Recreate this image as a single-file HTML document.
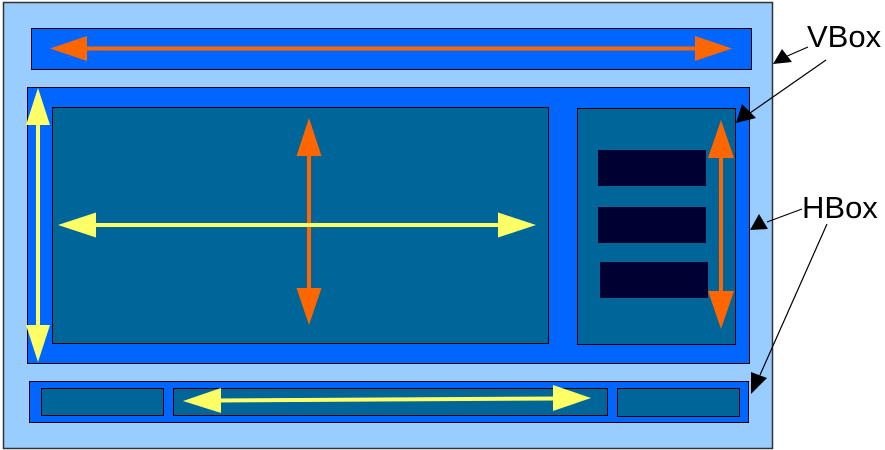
<!DOCTYPE html>
<html><head><meta charset="utf-8"><style>
html,body{margin:0;padding:0;background:#fff;width:885px;height:450px;overflow:hidden}
</style></head><body>
<svg width="885" height="450" xmlns="http://www.w3.org/2000/svg">
<rect x="3.5" y="2.5" width="769" height="446" fill="#99ccff" stroke="#333" stroke-width="1.5"/>
<rect x="31.5" y="28.5" width="720" height="41" fill="#0066ff" stroke="#000" stroke-width="1"/>
<rect x="27.5" y="87.5" width="722" height="276" fill="#0066ff" stroke="#000" stroke-width="1"/>
<rect x="52.5" y="107.5" width="496" height="236" fill="#006699" stroke="#000" stroke-width="1"/>
<rect x="577.5" y="108.5" width="158" height="236" fill="#006699" stroke="#000" stroke-width="1"/>
<rect x="598" y="150" width="108" height="36" fill="#000033"/>
<rect x="598" y="207" width="108" height="36" fill="#000033"/>
<rect x="600" y="262" width="108" height="36" fill="#000033"/>
<rect x="29.5" y="381.5" width="719" height="41" fill="#0066ff" stroke="#000" stroke-width="1"/>
<rect x="41.5" y="388.5" width="122" height="27" fill="#006699" stroke="#000" stroke-width="1"/>
<rect x="173.5" y="388.5" width="434" height="27" fill="#006699" stroke="#000" stroke-width="1"/>
<rect x="617.5" y="388.5" width="122" height="28" fill="#006699" stroke="#000" stroke-width="1"/>
<g fill="#ff6600" stroke="none">
<rect x="85" y="46.5" width="612" height="4"/>
<polygon points="50,48.5 87,36 87,61"/>
<polygon points="732,48.5 695,36 695,61"/>
<rect x="307" y="150" width="4" height="145"/>
<polygon points="309,118 296.5,156 321.5,156"/>
<polygon points="309,325 296.5,288 321.5,288"/>
<rect x="719" y="155" width="4" height="140"/>
<polygon points="721,120 708,158 734,158"/>
<polygon points="721,329 708,291 734,291"/>
</g>
<g fill="#ffff66" stroke="none">
<rect x="36" y="120" width="4" height="210"/>
<polygon points="38,88 26,125 50,125"/>
<polygon points="38,362 26,325 50,325"/>
<rect x="90" y="223" width="410" height="4"/>
<polygon points="58,225 96,212.5 96,237.5"/>
<polygon points="536,225 498,212.5 498,237.5"/>
<polygon points="183,401 221,388 221,413"/>
<polygon points="591,398 553,385 553,411"/>
<line x1="215" y1="400.5" x2="560" y2="398.5" stroke="#ffff66" stroke-width="4"/>
</g>
<g stroke="#000" stroke-width="1.2" fill="none">
<line x1="808" y1="47" x2="785" y2="57"/>
<line x1="826" y1="60" x2="750" y2="113"/>
<line x1="802" y1="209" x2="767" y2="222"/>
<line x1="827" y1="224" x2="760" y2="375"/>
</g>
<g fill="#000">
<polygon points="773,64 782,49 792,62"/>
<polygon points="736,123 742,104 756,118"/>
<polygon points="750,230 759,214 768,229"/>
<polygon points="751,394 751,372 767,378"/>
</g>
<text x="807" y="47" font-family="Liberation Sans, sans-serif" font-size="31" fill="#000">VBox</text>
<text x="802" y="218" font-family="Liberation Sans, sans-serif" font-size="31" fill="#000">HBox</text>
</svg>
</body></html>
